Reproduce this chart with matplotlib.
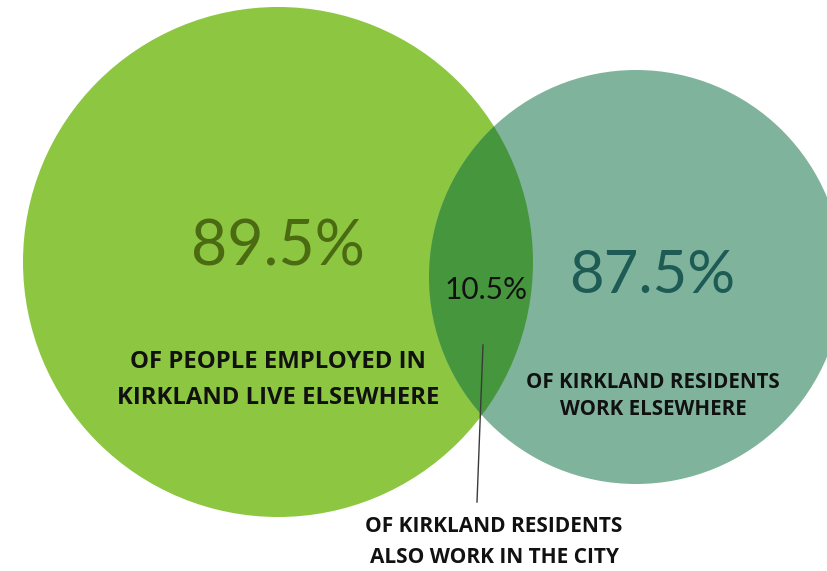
import matplotlib
matplotlib.use("Agg")
import matplotlib.pyplot as plt
from matplotlib.patches import Circle

# Data
values = [89.5, 87.5, 10.5]
value_labels = ["89.5%", "87.5%", "10.5%"]
captions = [
    "OF PEOPLE EMPLOYED IN\nKIRKLAND LIVE ELSEWHERE",
    "OF KIRKLAND RESIDENTS\nWORK ELSEWHERE",
    "OF KIRKLAND RESIDENTS\nALSO WORK IN THE CITY",
]

W, H = 827, 571
fig = plt.figure(figsize=(W / 100, H / 100), dpi=100)
ax = fig.add_axes([0, 0, 1, 1])
ax.set_xlim(0, W)
ax.set_ylim(H, 0)
ax.set_aspect("equal")
ax.axis("off")

c_big = "#8DC641"
c_small = "#7FB39C"
c_overlap = "#46963E"

big = Circle((278, 262), 255, facecolor=c_big, edgecolor="none", zorder=1)
small = Circle((636, 277), 207, facecolor=c_small, edgecolor="none", zorder=1)
ax.add_patch(big)
ax.add_patch(small)
ov = Circle((636, 277), 207, facecolor=c_overlap, edgecolor="none", zorder=2)
ax.add_patch(ov)
ov.set_clip_path(Circle((278, 262), 255, transform=ax.transData))

numfont = "Lato"
capfont = "Open Sans"

ax.text(278, 248, value_labels[0], ha="center", va="center", fontsize=45,
        color="#4B6B12", family=numfont, zorder=5)
ax.text(652, 276, value_labels[1], ha="center", va="center", fontsize=43,
        color="#1D5B54", family=numfont, zorder=5)
ax.text(486, 290, value_labels[2], ha="center", va="center", fontsize=21.5,
        color="#111111", family=numfont, zorder=5)

ax.text(278, 380, captions[0], ha="center", va="center", fontsize=17.2,
        fontweight="bold", color="#111111", family=capfont, linespacing=1.67, zorder=5)
ax.text(653, 396, captions[1], ha="center", va="center", fontsize=14.8,
        fontweight="bold", color="#111111", family=capfont, linespacing=1.4, zorder=5)
ax.text(494, 542, captions[2], ha="center", va="center", fontsize=15,
        fontweight="bold", color="#111111", family=capfont, linespacing=1.65, zorder=5)

ax.plot([483, 477], [345, 502], color="#3a3a3a", linewidth=1.0, zorder=4)

fig.savefig("out.png", dpi=100)
